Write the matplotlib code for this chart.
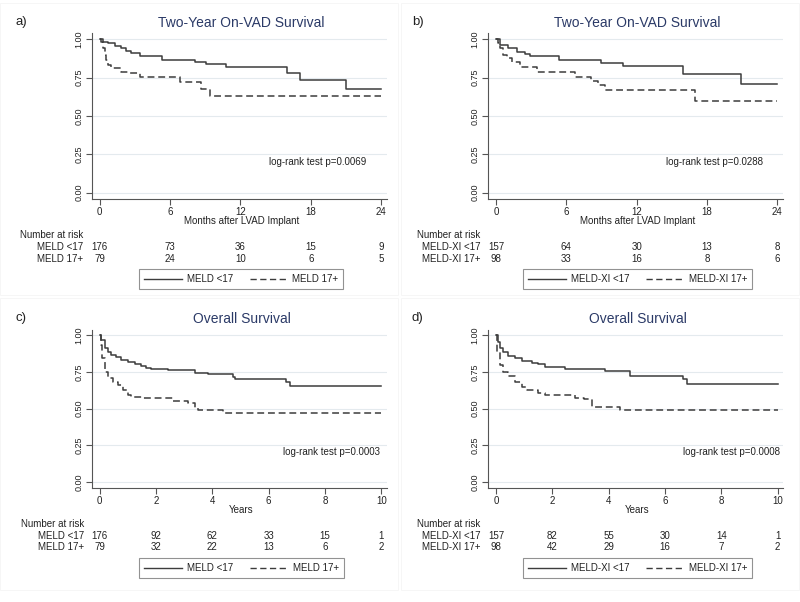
import matplotlib
matplotlib.use("Agg")
import matplotlib.pyplot as plt
import matplotlib.transforms as mtransforms
from matplotlib.lines import Line2D

plt.rcParams['font.family'] = ['Liberation Sans', 'DejaVu Sans']

W, H = 800, 602
TXT = '#222222'
TITLE_C = '#2b3a67'
LINE_C = '#3c3c3c'

# ---- data (time of step, survival after step) ----
# a) two-year on-VAD survival, MELD (months)
a_low_t = [0, 0.28, 0.71, 1.28, 1.85, 2.27, 2.7, 3.41, 5.31, 8.1, 9.09, 10.8, 16.0, 17.05, 20.97]
a_low_s = [1.0, 0.985, 0.974, 0.957, 0.941, 0.924, 0.909, 0.893, 0.865, 0.85, 0.837, 0.817, 0.778, 0.733, 0.676]
a_high_t = [0, 0.09, 0.28, 0.43, 0.57, 0.71, 0.99, 1.85, 2.56, 3.41, 6.82, 8.66, 9.38]
a_high_s = [1.0, 0.985, 0.941, 0.898, 0.865, 0.833, 0.811, 0.789, 0.778, 0.757, 0.72, 0.678, 0.633]

# b) two-year on-VAD survival, MELD-XI (months)
b_low_t = [0, 0.34, 1.05, 1.76, 2.47, 2.9, 5.37, 9.0, 10.8, 15.97, 20.94]
b_low_s = [1.0, 0.963, 0.941, 0.92, 0.902, 0.891, 0.863, 0.846, 0.826, 0.774, 0.709]
b_high_t = [0, 0.2, 0.34, 0.63, 0.91, 1.34, 2.05, 3.47, 6.73, 8.15, 8.72, 9.29, 17.02]
b_high_s = [1.0, 0.974, 0.941, 0.898, 0.876, 0.854, 0.817, 0.785, 0.752, 0.73, 0.702, 0.667, 0.596]

# c) overall survival, MELD (years)
c_low_t = [0, 0.06, 0.18, 0.30, 0.41, 0.59, 0.77, 1.01, 1.24, 1.48, 1.66, 1.83, 2.43, 3.37, 3.85, 4.73, 4.80, 6.63, 6.75]
c_low_s = [1.0, 0.966, 0.91, 0.887, 0.864, 0.848, 0.83, 0.819, 0.803, 0.792, 0.778, 0.767, 0.762, 0.744, 0.733, 0.717, 0.704, 0.683, 0.652]
c_high_t = [0, 0.04, 0.08, 0.18, 0.30, 0.47, 0.65, 0.83, 1.01, 1.12, 1.5, 2.60, 3.14, 3.37, 3.49, 4.38]
c_high_s = [1.0, 0.932, 0.842, 0.751, 0.71, 0.683, 0.66, 0.627, 0.593, 0.582, 0.575, 0.552, 0.536, 0.502, 0.49, 0.468]

# d) overall survival, MELD-XI (years)
d_low_t = [0, 0.06, 0.14, 0.26, 0.44, 0.67, 0.91, 1.27, 1.50, 1.74, 2.45, 3.87, 4.76, 6.63, 6.77]
d_low_s = [1.0, 0.955, 0.91, 0.887, 0.86, 0.842, 0.824, 0.81, 0.80, 0.78, 0.769, 0.758, 0.724, 0.699, 0.665]
d_high_t = [0, 0.04, 0.14, 0.26, 0.44, 0.67, 0.91, 1.09, 1.50, 1.74, 2.80, 3.14, 3.40, 4.40]
d_high_s = [1.0, 0.887, 0.796, 0.751, 0.724, 0.683, 0.649, 0.627, 0.604, 0.593, 0.575, 0.566, 0.512, 0.49]

months_ticks = [0, 6, 12, 18, 24]
years_ticks = [0, 2, 4, 6, 8, 10]
y_ticks = [0, 0.25, 0.5, 0.75, 1.0]

a_risk = [[176, 73, 36, 15, 9], [79, 24, 10, 6, 5]]
b_risk = [[157, 64, 30, 13, 8], [98, 33, 16, 8, 6]]
c_risk = [[176, 92, 62, 33, 15, 1], [79, 32, 22, 13, 6, 2]]
d_risk = [[157, 82, 55, 30, 14, 1], [98, 42, 29, 16, 7, 2]]

meld_labels = ['MELD <17', 'MELD 17+']
xi_labels = ['MELD-XI <17', 'MELD-XI 17+']


def fx(x):
  return x / W


def fy(y):
  return 1 - y / H


def panel(fig, rect_px, tag, title, xlabel, xticks, xlim, ylim, low, high,
          risk, labels, pval, pval_px, ox, oy):
  left, right, top, bottom = rect_px
  ax = fig.add_axes([fx(left), fy(bottom), fx(right - left), (bottom - top) / H])
  end = xticks[-1]
  l1, = ax.step(low[0] + [end], low[1] + [low[1][-1]], where='post',
                color=LINE_C, lw=1.1)
  l2, = ax.step(high[0] + [end], high[1] + [high[1][-1]], where='post',
                color=LINE_C, lw=1.1, dashes=(4.5, 2.5))
  ax.set_xlim(*xlim)
  ax.set_ylim(*ylim)
  ax.set_xticks(xticks)
  ax.set_yticks(y_ticks)
  ax.set_yticklabels(['%.2f' % v for v in y_ticks])
  ax.yaxis.grid(True, color='#e4eaee', lw=0.8)
  ax.set_axisbelow(True)
  for s in ['top', 'right']:
    ax.spines[s].set_visible(False)
  for s in ['left', 'bottom']:
    ax.spines[s].set_color('#555555')
    ax.spines[s].set_linewidth(0.8)
  ax.tick_params(direction='out', length=4, width=0.8, color='#555555',
                 labelsize=7, labelcolor=TXT, pad=2)
  ax.tick_params(axis='y', labelrotation=90, labelsize=6.5)
  for lab in ax.get_yticklabels():
    lab.set_va('center')

  # panel letter, title, x label
  fig.text(fx(ox + 15), fy(oy + 22), tag, fontsize=9.5, color=TXT,
           ha='left', va='center')
  fig.text(fx((left + right) / 2 + 2), fy(oy + 23), title, fontsize=10,
           color=TITLE_C, ha='center', va='center')
  fig.text(fx((left + right) / 2 + 2), fy(bottom + 22), xlabel, fontsize=7,
           color=TXT, ha='center', va='center')
  fig.text(fx(pval_px[0]), fy(pval_px[1]), pval, fontsize=7, color=TXT,
           ha='right', va='center')

  # number at risk table
  trans = mtransforms.blended_transform_factory(ax.transData, fig.transFigure)
  lab_x = fx(left - 8)
  fig.text(lab_x, fy(bottom + 36), 'Number at risk', fontsize=7, color=TXT,
           ha='right', va='center')
  for k, row in enumerate(risk):
    yy = fy(bottom + 48 + 11.5 * k)
    fig.text(lab_x, yy, labels[k], fontsize=7, color=TXT, ha='right', va='center')
    for xv, n in zip(xticks, row):
      ax.text(xv, yy, str(n), transform=trans, fontsize=7, color=TXT,
              ha='center', va='center', clip_on=False)

  # legend
  h1 = Line2D([], [], color=LINE_C, lw=1.0)
  h2 = Line2D([], [], color=LINE_C, lw=1.0, dashes=(4.5, 2.5))
  leg = fig.legend([h1, h2], labels, loc='center',
                   bbox_to_anchor=(fx((left + right) / 2 + 2), fy(bottom + 80)),
                   ncol=2, fontsize=7, frameon=True, fancybox=False,
                   edgecolor='#777777', handlelength=3.9, handletextpad=0.5,
                   columnspacing=1.7, borderpad=0.5)
  leg.get_frame().set_linewidth(0.8)
  for t in leg.get_texts():
    t.set_color(TXT)
  return ax


fig = plt.figure(figsize=(W / 100, H / 100), dpi=100)

# faint panel frames
for x0, y0 in [(0, 3), (401, 3), (0, 298), (401, 298)]:
  fig.patches.append(plt.Rectangle((fx(x0), fy(y0 + 292)), fx(398), 292 / H,
                                   transform=fig.transFigure, fill=False,
                                   edgecolor='#f5f5f5', lw=0.6))

panel(fig, (91.5, 387, 33, 199), 'a)', 'Two-Year On-VAD Survival',
      'Months after LVAD Implant', months_ticks, (-0.7, 24.5), (-0.041, 1.041),
      (a_low_t, a_low_s), (a_high_t, a_high_s), a_risk, meld_labels,
      'log-rank test p=0.0069', (366, 162), 0, 0)
panel(fig, (488, 783, 33, 199), 'b)', 'Two-Year On-VAD Survival',
      'Months after LVAD Implant', months_ticks, (-0.68, 24.49), (-0.041, 1.041),
      (b_low_t, b_low_s), (b_high_t, b_high_s), b_risk, xi_labels,
      'log-rank test p=0.0288', (763, 162), 397, 0)
panel(fig, (92, 387, 330, 488), 'c)', 'Overall Survival',
      'Years', years_ticks, (-0.27, 10.2), (-0.039, 1.034),
      (c_low_t, c_low_s), (c_high_t, c_high_s), c_risk, meld_labels,
      'log-rank test p=0.0003', (380, 452), 1, 296)
panel(fig, (488, 783, 330, 488), 'd)', 'Overall Survival',
      'Years', years_ticks, (-0.28, 10.19), (-0.039, 1.034),
      (d_low_t, d_low_s), (d_high_t, d_high_s), d_risk, xi_labels,
      'log-rank test p=0.0008', (780, 452), 397, 296)

fig.savefig('out.png', dpi=100)
